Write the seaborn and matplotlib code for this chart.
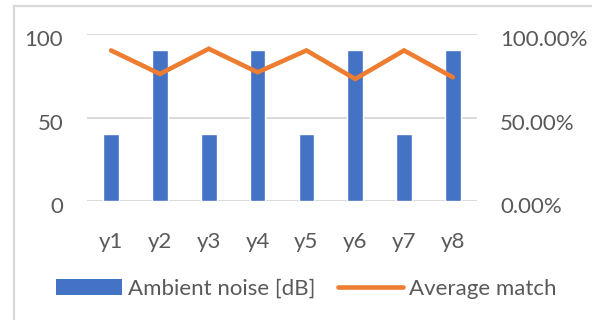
import matplotlib
matplotlib.use("Agg")
import matplotlib.pyplot as plt
import matplotlib.transforms as mtransforms
from matplotlib.patches import Rectangle
from matplotlib.lines import Line2D
from matplotlib.ticker import FuncFormatter
import seaborn as sns
import pandas as pd

# Chart data
categories = ["y1", "y2", "y3", "y4", "y5", "y6", "y7", "y8"]
ambient_noise = [40, 90, 40, 90, 40, 90, 40, 90]
average_match = [0.90, 0.76, 0.91, 0.77, 0.90, 0.73, 0.90, 0.74]
left_ticks = [0, 50, 100]
right_ticks = [0.0, 0.5, 1.0]

BLUE = "#4472C4"
ORANGE = "#ED7D31"
TEXT = "#595959"
GRID = "#D9D9D9"

sns.set_theme(style="white")
plt.rcParams["font.family"] = ["Lato", "DejaVu Sans"]
FS = 16

df = pd.DataFrame({"cat": categories, "noise": ambient_noise, "match": average_match})

W, H = 592, 320
fig = plt.figure(figsize=(W / 100, H / 100), dpi=100)
ax = fig.add_axes([86.7 / W, 1 - 201.3 / H, 390.6 / W, 167.6 / H])

sns.barplot(data=df, x="cat", y="noise", color=BLUE, saturation=1,
            width=0.32, ax=ax, zorder=3)
ax.set_xlim(-0.5, len(categories) - 0.5)
ax.set_ylim(0, 100)
ax.set_yticks(left_ticks)
ax.set_xlabel("")
ax.set_ylabel("")
ax.yaxis.grid(True, color=GRID, linewidth=1.4, zorder=0)
ax.set_axisbelow(True)
for s in ax.spines.values():
    s.set_visible(False)
ax.tick_params(axis="both", length=0, labelsize=FS, labelcolor=TEXT)
ax.tick_params(axis="y", pad=17)
ax.tick_params(axis="x", pad=22)

ax2 = ax.twinx()
sns.lineplot(data=df, x="cat", y="match", color=ORANGE, linewidth=3.3,
             sort=False, ax=ax2, zorder=4)
for ln in ax2.get_lines():
    ln.set_solid_capstyle("round")
    ln.set_solid_joinstyle("miter")
ax2.set_ylim(0, 1)
ax2.set_yticks(right_ticks)
ax2.yaxis.set_major_formatter(FuncFormatter(lambda v, _: f"{v * 100:.2f}%"))
ax2.set_ylabel("")
ax2.set_xlabel("")
ax2.grid(False)
for s in ax2.spines.values():
    s.set_visible(False)
ax2.tick_params(axis="both", length=0, labelsize=FS, labelcolor=TEXT)
ax2.tick_params(axis="y", pad=16.5)
ax2.set_xlim(-0.5, len(categories) - 0.5)

# nudge value labels slightly below their gridlines
shift = mtransforms.ScaledTranslation(0, -4.0 / 100, fig.dpi_scale_trans)
for lab in ax.get_yticklabels() + ax2.get_yticklabels():
    lab.set_transform(lab.get_transform() + shift)

# chart area frame (left and top edges)
fig.add_artist(Rectangle((14 / W, -0.1), 1.2, (1 - 6 / H) + 0.1,
                         transform=fig.transFigure, fill=False,
                         edgecolor=GRID, linewidth=1.6, zorder=0))

handles = [Rectangle((0, 0), 1, 1, facecolor=BLUE, edgecolor="none"),
           Line2D([0], [0], color=ORANGE, linewidth=3.3, solid_capstyle="round")]
fig.legend(handles, ["Ambient noise [dB]", "Average match"],
           loc="center", bbox_to_anchor=(306.5 / W, 1 - 289 / H), ncol=2,
           frameon=False, fontsize=FS, labelcolor=TEXT, handlelength=2.93,
           handleheight=0.75, handletextpad=0.27, columnspacing=1.04,
           borderpad=0, borderaxespad=0)

fig.savefig("out.png", dpi=100, facecolor="white")
